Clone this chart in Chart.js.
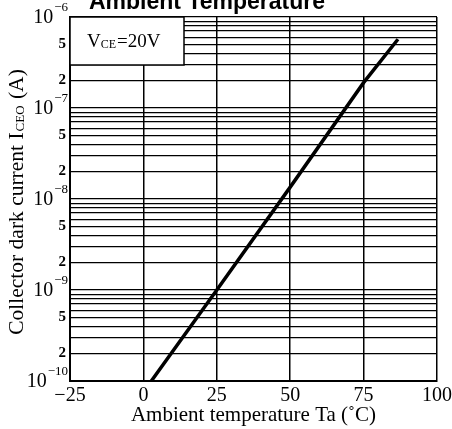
<!DOCTYPE html>
<html><head><meta charset="utf-8">
<script src="https://cdn.jsdelivr.net/npm/chart.js@4/dist/chart.umd.min.js"></script>
<style>html,body{margin:0;padding:0;background:#fff;}#wrap{width:452px;height:429px;}</style>
</head><body><div id="wrap"><canvas id="c" width="452" height="429"></canvas></div>
<script>
// Data
const temperatures = [2.7, 25, 50, 75, 86.7];           // Ta (°C)
const darkCurrent  = [1e-10, 1e-9, 1.35e-8, 1.9e-7, 5.7e-7]; // ICEO (A)
const xTicks = [-25, 0, 25, 50, 75, 100];
const decades = [-10, -9, -8, -7, -6];
const minorMultipliers = [1, 2, 3, 4, 5, 6, 7, 8, 9];
const labelledMultipliers = [2, 5];
const chartTitle = 'Ambient Temperature';
const xTitle = 'Ambient temperature Ta (˚C)';
const conditionText = ['V', 'CE', '=20V'];
const yTitleParts = ['Collector dark current I', 'CEO', ' (A)'];

const SERIF = '"Liberation Serif","DejaVu Serif",serif';

const yTickValues = [];
decades.forEach((d, i) => {
  if (i === decades.length - 1) { yTickValues.push(Math.pow(10, d)); return; }
  minorMultipliers.forEach(m => yTickValues.push(m * Math.pow(10, d)));
});

const decorPlugin = {
  id: 'decor',
  afterDraw(chart) {
    const ctx = chart.ctx, ca = chart.chartArea;
    const ys = chart.scales.y;
    ctx.save();
    // title (cropped at top in the reference)
    ctx.fillStyle = '#000';
    ctx.font = 'bold 23px "Liberation Sans", Arial, sans-serif';
    ctx.textAlign = 'center';
    ctx.textBaseline = 'alphabetic';
    ctx.fillText(chartTitle, 207, 9);
    // condition box
    const bx = ca.left, by = ca.top, bw = 114, bh = 48;
    ctx.fillStyle = '#fff';
    ctx.fillRect(bx, by, bw, bh);
    ctx.strokeStyle = '#000';
    ctx.lineWidth = 1.5;
    ctx.strokeRect(bx, by, bw, bh);
    ctx.fillStyle = '#000';
    ctx.textAlign = 'left';
    ctx.textBaseline = 'alphabetic';
    let tx = bx + 17; const ty = by + 30;
    ctx.font = '19px ' + SERIF;
    ctx.fillText(conditionText[0], tx, ty); tx += ctx.measureText(conditionText[0]).width;
    ctx.font = '12px ' + SERIF;
    ctx.fillText(conditionText[1], tx, ty + 1); tx += ctx.measureText(conditionText[1]).width + 1;
    ctx.font = '19px ' + SERIF;
    ctx.fillText(conditionText[2], tx, ty);
    // y-axis title with subscript
    ctx.save();
    ctx.translate(17, (ca.top + ca.bottom) / 2 + 3);
    ctx.rotate(-Math.PI / 2);
    ctx.font = '21.5px ' + SERIF;
    const w0 = ctx.measureText(yTitleParts[0]).width;
    ctx.font = '13px ' + SERIF;
    const w1 = ctx.measureText(yTitleParts[1]).width;
    ctx.font = '21.5px ' + SERIF;
    const w2 = ctx.measureText(yTitleParts[2]).width;
    let sx = -(w0 + w1 + w2 + 2) / 2;
    ctx.textBaseline = 'middle';
    ctx.fillText(yTitleParts[0], sx, 0); sx += w0;
    ctx.font = '13px ' + SERIF;
    ctx.fillText(yTitleParts[1], sx + 1, 4); sx += w1 + 2;
    ctx.font = '21.5px ' + SERIF;
    ctx.fillText(yTitleParts[2], sx, 0);
    ctx.restore();
    // y tick labels (10^n with superscript, 2 and 5)
    ctx.textAlign = 'right';
    ctx.textBaseline = 'middle';
    yTickValues.forEach(v => {
      const e = Math.floor(Math.log10(v) + 1e-9);
      const m = Math.round(v / Math.pow(10, e));
      const py = ys.getPixelForValue(v);
      if (m === 1) {
        ctx.font = '13px ' + SERIF;
        const sup = '−' + String(-e);
        const sw = ctx.measureText(sup).width;
        ctx.fillText(sup, ca.left - 2, py - 9);
        ctx.font = '20px ' + SERIF;
        ctx.fillText('10', ca.left - 3 - sw, py + 1);
      } else if (labelledMultipliers.includes(m)) {
        ctx.font = 'bold 15px ' + SERIF;
        ctx.fillText(String(m), ca.left - 4, py);
      }
    });
    ctx.restore();
  }
};

new Chart(document.getElementById('c'), {
  type: 'line',
  data: {
    datasets: [{
      data: temperatures.map((t, i) => ({x: t, y: darkCurrent[i]})),
      borderColor: '#000',
      borderWidth: 3.5,
      pointRadius: 0,
      fill: false,
      tension: 0
    }]
  },
  plugins: [decorPlugin],
  options: {
    responsive: false,
    animation: false,
    devicePixelRatio: 1,
    layout: {padding: {top: 17, right: 15, left: 0, bottom: 0}},
    plugins: {legend: {display: false}, tooltip: {enabled: false}, title: {display: false}},
    scales: {
      x: {
        type: 'linear', min: -25, max: 100,
        afterBuildTicks: s => { s.ticks = xTicks.map(v => ({value: v})); },
        afterFit: s => { s.height = 48; s.paddingLeft = 0; s.paddingRight = 0; },
        grid: {color: '#000', lineWidth: 1.5, drawTicks: false},
        border: {color: '#000', width: 2},
        ticks: {
          color: '#000', padding: 3, maxRotation: 0,
          font: {family: SERIF, size: 20},
          callback: v => v < 0 ? '−' + Math.abs(v) : String(v)
        },
        title: {display: true, text: xTitle, color: '#000', font: {family: SERIF, size: 21}, padding: {top: 0, bottom: 1}}
      },
      y: {
        type: 'logarithmic', min: 1e-10, max: 1e-6,
        afterBuildTicks: s => { s.ticks = yTickValues.map(v => ({value: v})); },
        afterFit: s => { s.width = 70; s.paddingTop = 0; s.paddingBottom = 0; },
        grid: {color: '#000', lineWidth: 1.3, drawTicks: false},
        border: {color: '#000', width: 2},
        ticks: {display: false}
      }
    }
  }
});
</script></body></html>
